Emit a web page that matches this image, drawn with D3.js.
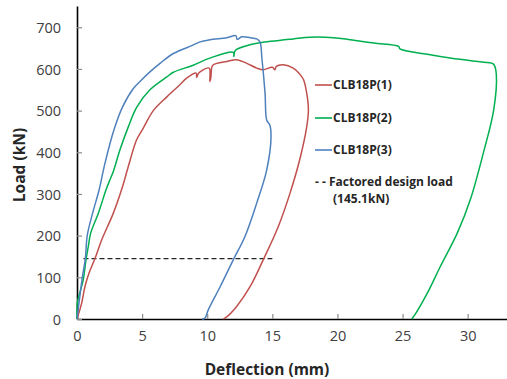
<!DOCTYPE html>
<html>
<head>
<meta charset="utf-8">
<script src="https://cdn.jsdelivr.net/npm/d3@7"></script>
<style>
  html, body { margin: 0; padding: 0; background: #fff; }
  svg { display: block; }
</style>
</head>
<body>
<svg id="chart" width="507" height="379"></svg>
<script>
// ---- data (deflection mm, load kN) ----
const seriesNames = ["CLB18P(1)", "CLB18P(2)", "CLB18P(3)"];
const designLoadLabel = ["- - Factored design load", "(145.1kN)"];
const designLoad = 145.1;
const designLoadRange = [0.5, 15.0];
const xTicks = [0, 5, 10, 15, 20, 25, 30];
const yTicks = [0, 100, 200, 300, 400, 500, 600, 700];

const clb1 = [[0,0],[0.36,38],[0.61,78],[0.92,110],[1.38,145],[1.9,190],[2.79,254],[3.5,318],[3.94,366],[4.58,430],[5.09,458],[5.86,500],[6.9,533],[7.9,562],[8.42,578],[9.15,590],[9.19,580],[9.3,588],[9.45,593],[10.15,602],[10.2,570],[10.28,580],[10.35,604],[10.47,610],[11.5,618],[12.26,622],[13.0,614],[13.8,602],[14.3,598],[15.0,604],[15.2,598],[15.3,606],[15.85,610],[16.6,602],[17.2,584],[17.4,574],[17.64,542],[17.77,502],[17.64,461],[17.1,382],[16.36,302],[15.46,222],[14.3,142],[13.3,78],[12.26,30],[11.5,5],[11.24,0]];
const clb2 = [[0,0],[0.02,38],[0.1,50],[0.48,94],[0.69,142],[0.87,174],[1.05,206],[1.64,254],[2.23,310],[2.53,334],[2.79,354],[3.3,406],[3.94,461],[4.58,508],[5.6,550],[6.9,581],[7.4,592],[8.93,609],[10.2,626],[12.0,640],[12.05,630],[12.15,644],[13.54,660],[14.06,663],[16.6,672],[17.9,676],[19.7,675],[21.0,670],[22.8,662],[24.7,654],[24.8,648],[26.9,635],[28.65,626],[30.4,619],[31.3,616],[32.0,611],[32.2,586],[32.0,502],[31.2,398],[30.2,286],[29.2,206],[27.9,126],[26.9,62],[25.9,8],[25.7,0]];
const clb3 = [[0,0],[0.2,50],[0.4,98],[0.64,145],[0.79,201],[1.2,254],[1.7,310],[2.15,374],[2.84,454],[3.5,509],[4.33,553],[4.97,574],[5.6,593],[6.4,614],[7.4,637],[8.9,657],[9.45,665],[10.2,670],[11.5,675],[12.2,680],[12.3,671],[12.65,677],[13.3,675],[13.8,672],[14.05,665],[14.2,625],[14.44,542],[14.57,477],[14.8,466],[14.9,437],[14.57,358],[13.8,278],[12.9,198],[12.0,142],[11.0,78],[10.08,22],[9.83,2],[9.6,0]];
const seriesData = [clb1, clb2, clb3];
const seriesColors = ["#C0504D", "#00B050", "#4F81BD"];

// ---- layout ----
const svg = d3.select("#chart");
const x = d3.scaleLinear().domain([0, 33.02]).range([77, 507]);
const y = d3.scaleLinear().domain([0, 751]).range([319, 6]);
const font = "'Open Sans', 'DejaVu Sans', sans-serif";

// axes
const xAxis = d3.axisBottom(x).tickValues(xTicks).tickSizeInner(-5).tickSizeOuter(0).tickPadding(12);
const gx = svg.append("g").attr("transform", "translate(0,319)").call(xAxis);
const yAxis = d3.axisLeft(y).tickValues(yTicks).tickSizeInner(-5).tickSizeOuter(0).tickPadding(16);
const gy = svg.append("g").attr("transform", "translate(77,0)").call(yAxis);
[gx, gy].forEach(g => {
  g.select(".domain").attr("stroke", "#000").attr("stroke-width", 1.6);
  g.selectAll(".tick line").attr("stroke", "#8c8c8c").attr("stroke-width", 1.2);
  g.selectAll(".tick text").attr("font-family", font).attr("font-size", 14.5).attr("fill", "#404040");
});
gy.selectAll(".tick text").attr("dy", "0.35em");

// design load line
svg.append("line")
  .attr("x1", x(designLoadRange[0])).attr("x2", x(designLoadRange[1]))
  .attr("y1", y(designLoad)).attr("y2", y(designLoad))
  .attr("stroke", "#262626").attr("stroke-width", 1.2).attr("stroke-dasharray", "5,3");

// curves
const line = d3.line().x(d => x(d[0])).y(d => y(d[1])).curve(d3.curveCatmullRom.alpha(0.5));
seriesData.forEach((s, i) => {
  svg.append("path").datum(s).attr("d", line)
    .attr("fill", "none").attr("stroke", seriesColors[i]).attr("stroke-width", 1.5)
    .attr("stroke-linejoin", "round");
});

// legend
const legY = [85, 118, 150];
const legFont = 12;
seriesNames.forEach((n, i) => {
  svg.append("line").attr("x1", 315).attr("x2", 332).attr("y1", legY[i]).attr("y2", legY[i])
    .attr("stroke", seriesColors[i]).attr("stroke-width", 1.6);
  svg.append("text").attr("x", 333).attr("y", legY[i]).attr("dy", "0.36em")
    .attr("font-family", font).attr("font-weight", "bold").attr("font-size", legFont)
    .attr("fill", "#262626").text(n);
});
svg.append("text").attr("x", 315).attr("y", 182).attr("dy", "0.36em")
  .attr("font-family", font).attr("font-weight", "bold").attr("font-size", legFont)
  .attr("fill", "#262626").attr("xml:space", "preserve").text(designLoadLabel[0]);
svg.append("text").attr("x", 333).attr("y", 199).attr("dy", "0.36em")
  .attr("font-family", font).attr("font-weight", "bold").attr("font-size", legFont)
  .attr("fill", "#262626").text(designLoadLabel[1]);

// axis titles
svg.append("text").attr("x", 267).attr("y", 375).attr("text-anchor", "middle")
  .attr("font-family", font).attr("font-weight", "bold").attr("font-size", 15.5)
  .attr("fill", "#262626").text("Deflection (mm)");
svg.append("text").attr("transform", "translate(25,165) rotate(-90)").attr("text-anchor", "middle")
  .attr("font-family", font).attr("font-weight", "bold").attr("font-size", 15.5)
  .attr("fill", "#262626").text("Load (kN)");
</script>
</body>
</html>
